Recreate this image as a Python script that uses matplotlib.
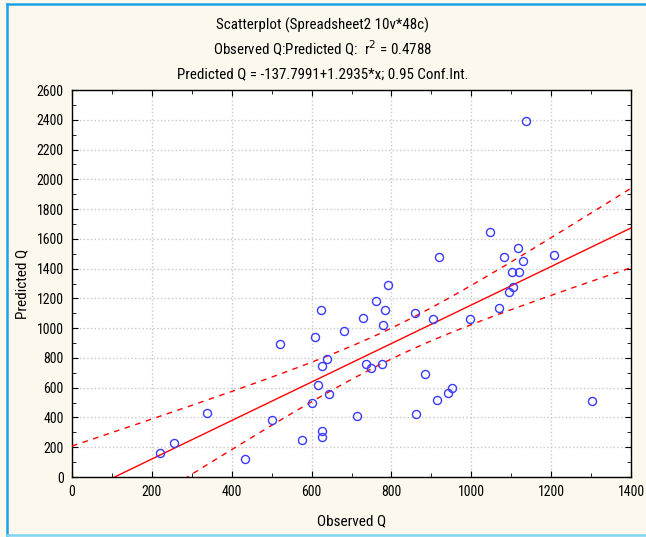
import numpy as np
import matplotlib
matplotlib.use("Agg")
import matplotlib.pyplot as plt
from matplotlib.lines import Line2D
from matplotlib.ticker import MultipleLocator

plt.rcParams['font.family'] = ['Roboto Condensed', 'Liberation Sans', 'DejaVu Sans']

observed_q = [220, 256, 338, 434, 502, 520, 576, 600, 608, 624, 615, 626, 639, 643, 626, 626,
              680, 713, 918, 791, 761, 784, 729, 860, 905, 997, 779, 736, 749, 777, 885, 951,
              942, 915, 862, 1048, 1118, 1083, 1129, 1206, 1103, 1120, 1104, 1095, 1070, 1302, 1137]
predicted_q = [163, 226, 428, 119, 385, 892, 247, 497, 939, 1120, 618, 748, 795, 558, 311, 267,
               983, 408, 1476, 1293, 1181, 1120, 1066, 1104, 1060, 1060, 1019, 761, 730, 761, 694, 598,
               564, 520, 423, 1644, 1537, 1476, 1454, 1492, 1380, 1380, 1275, 1241, 1138, 513, 2395]
intercept = -137.7991
slope = 1.2935
conf_level = 0.95

x = np.array(observed_q, float)
y = np.array(predicted_q, float)
n = len(x)
resid = y - (intercept + slope * x)
s = np.sqrt(np.sum(resid**2) / (n - 2))
t = 2.014
xs = np.linspace(0, 1400, 300)
yf = intercept + slope * xs
se = s * np.sqrt(1.0 / n + (xs - x.mean())**2 / np.sum((x - x.mean())**2))

fig = plt.figure(figsize=(6.46, 5.37), dpi=100)
fig.patch.set_facecolor('#fdf8ee')
# frame of the window (top, left, bottom)
fig.add_artist(Line2D([0.0101, 1.0], [0.9925, 0.9925], transform=fig.transFigure, color='#1aa3e8', lw=1.8))
fig.add_artist(Line2D([0.0101, 0.0101], [0.0028, 0.9925], transform=fig.transFigure, color='#1aa3e8', lw=1.8))
fig.add_artist(Line2D([0.0101, 1.0], [0.0028, 0.0028], transform=fig.transFigure, color='#7fd4f2', lw=1.8))

ax = fig.add_axes([0.1115, 0.1117, 0.8653, 0.7207])
ax.set_facecolor('white')

ax.plot(xs, yf, color='red', lw=1.0, zorder=3)
ax.plot(xs, yf + t * se, color='red', lw=1.0, ls=(0, (4, 4)), zorder=3)
ax.plot(xs, yf - t * se, color='red', lw=1.0, ls=(0, (4, 4)), zorder=3)
ax.plot(x, y, 'o', mfc='none', mec='#3a3aff', mew=1.0, ms=5.8, zorder=4)

ax.set_xlim(0, 1400)
ax.set_ylim(0, 2600)
ax.xaxis.set_major_locator(MultipleLocator(200))
ax.xaxis.set_minor_locator(MultipleLocator(100))
ax.yaxis.set_major_locator(MultipleLocator(200))
ax.yaxis.set_minor_locator(MultipleLocator(100))
ax.tick_params(which='both', direction='in', top=True, right=True, labelsize=10, length=4, pad=6)
ax.tick_params(which='minor', length=3)
ax.grid(True, which='major', color='#c8c8c8', ls=':', lw=1.0)
for sp in ax.spines.values():
    sp.set_linewidth(1.0)
    sp.set_color('black')

ax.set_xlabel('Observed Q', fontsize=11)
ax.set_ylabel('Predicted Q', fontsize=11)
ax.xaxis.set_label_coords(0.5, -0.097)
ax.yaxis.set_label_coords(-0.076, 0.5)

fig.text(0.5, 0.953, 'Scatterplot (Spreadsheet2 10v*48c)', ha='center', va='center', fontsize=10.8)
fig.text(0.5, 0.911, r'Observed Q:Predicted Q:  r$^2$ = 0.4788', ha='center', va='center', fontsize=10.8)
fig.text(0.5, 0.862, 'Predicted Q = -137.7991+1.2935*x; 0.95 Conf.Int.', ha='center', va='center', fontsize=10.8)

fig.savefig('out.png', dpi=100, facecolor=fig.get_facecolor())
